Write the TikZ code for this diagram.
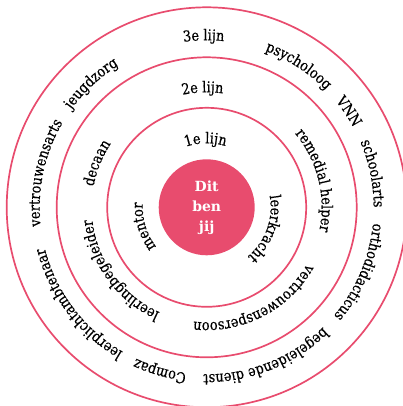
\documentclass[tikz,border=0pt]{standalone}
\usepackage{fontspec}
\setmainfont{DejaVu Serif}
\newfontfamily\ringfam[FakeStretch=0.86, FakeBold=0.4]{DejaVu Serif}
\usetikzlibrary{decorations.text}
\definecolor{roze}{RGB}{232,76,110}
\def\labelfont{\ringfam\fontsize{15}{17}\selectfont}

\begin{document}
\begin{tikzpicture}[x=1pt, y=1pt]
	% canvas (pixels of the original)
	\useasboundingbox (-206.7,-198.7) rectangle (196.3,207.3);
	% centre
	\node[circle, fill=roze, minimum size=96pt, inner sep=0pt, text=white,
		font=\bfseries\fontsize{14}{20}\selectfont, align=center] (jij) at (0,0) {Dit\\ben\\jij};
	% rings
	\foreach \r in {99.5,150,200}
	{
		\draw[roze, line width=1.7pt] (jij.center) circle[radius=\r];
	}
	% labels: angle / radius / text
	\foreach \ang/\rad/\tekst in {
		91/64/1e lijn, 197/64/mentor, -20/64/leerkracht,
		92/115/2e lijn, 158/115/decaan, 14/115/remedial helper,
		216/115/leerlingbegeleider, -63/115/vertrouwenspersoon,
		91/167/3e lijn, 57/167/psycholoog, 34/167/VNN, 11.5/167/schoolarts,
		-23/167/orthodidacticus, -68.5/167/begeleidende dienst, 254/167/Compaz,
		217/167/leerplichtambtenaar, 168/167/vertrouwensarts, 133/167/jeugdzorg}
	{
		\path[decorate, decoration={text along path, text align=center,
				text/.expanded={|\noexpand\labelfont|\tekst}}]
			(jij.center) ++(\ang+90:\rad) arc[start angle=\ang+90, end angle=\ang-90, radius=\rad];
	}
\end{tikzpicture}
\end{document}
